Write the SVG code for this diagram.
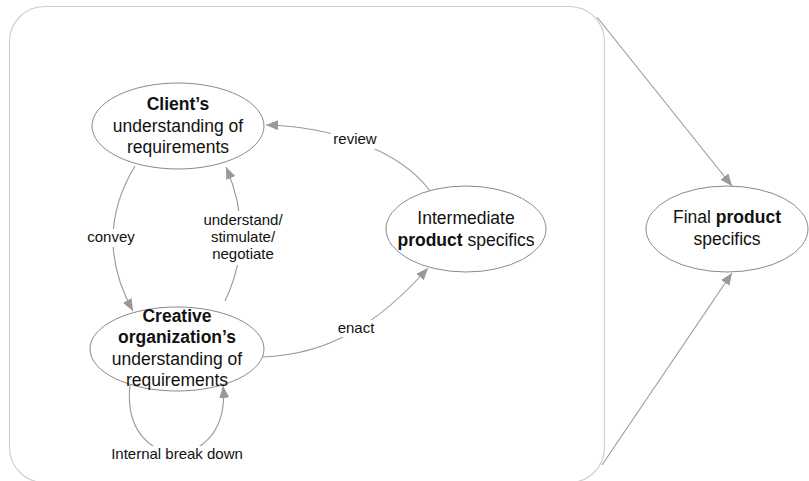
<svg xmlns="http://www.w3.org/2000/svg" width="809" height="481" viewBox="0 0 809 481">
  <defs>
    <marker id="arrow" viewBox="0 0 12 10" refX="12" refY="5" markerWidth="12" markerHeight="10" markerUnits="userSpaceOnUse" orient="auto">
      <path d="M0,0 L12,5 L0,10 Z" fill="#999"/>
    </marker>
    <style>
      .frame { fill: #fff; stroke: #cfcfcf; stroke-width: 1.2; }
      .node ellipse { fill: #fff; stroke: #8a8a8a; stroke-width: 1; }
      .node text { font-family: "Liberation Sans", Arial, sans-serif; font-size: 17.5px; fill: #111; text-anchor: middle; }
      .b { font-weight: bold; }
      .edge { fill: none; stroke: #999; stroke-width: 1.1; }
      .lbl { font-family: "Liberation Sans", Arial, sans-serif; font-size: 15px; fill: #111; text-anchor: middle; }
      .bg { fill: #fff; }
    </style>
  </defs>
  <rect width="809" height="481" fill="#fff"/>

  <!-- outer frame around the requirement cycle -->
  <rect class="frame" x="9.5" y="6.5" width="595" height="476" rx="35" ry="35"/>

  <g id="connectors">
    <!-- convey -->
    <path class="edge" d="M135,166 Q92,237 133,311" marker-end="url(#arrow)"/>
    <!-- understand / stimulate / negotiate -->
    <path class="edge" d="M225,301 Q256,236 226,167" marker-end="url(#arrow)"/>
    <!-- review -->
    <path class="edge" d="M430,191 C400,150 330,126 266,125" marker-end="url(#arrow)"/>
    <!-- enact -->
    <path class="edge" d="M262,357 C330,355 380,322 428,268" marker-end="url(#arrow)"/>
    <!-- internal break down (self loop) -->
    <path class="edge" d="M130,385 C120,475 232,475 223,386" marker-end="url(#arrow)"/>
    <!-- frame to final product -->
    <path class="edge" d="M597,17 L732,186" marker-end="url(#arrow)"/>
    <path class="edge" d="M602,465 L732,273" marker-end="url(#arrow)"/>

    <!-- labels -->
    <rect class="bg" x="85" y="229" width="52" height="18"/>
    <text class="lbl" x="111" y="242">convey</text>
    <rect class="bg" x="203" y="211" width="80" height="54"/>
    <text class="lbl" x="243" y="225">understand/</text>
    <text class="lbl" x="243" y="242">stimulate/</text>
    <text class="lbl" x="243" y="259">negotiate</text>
    <rect class="bg" x="331" y="131" width="48" height="18"/>
    <text class="lbl" x="355" y="144">review</text>
    <rect class="bg" x="335" y="320" width="42" height="17"/>
    <text class="lbl" x="356" y="333">enact</text>
    <rect class="bg" x="108" y="446" width="138" height="18"/>
    <text class="lbl" x="177" y="459">Internal break down</text>
  </g>

  <g id="client" class="node">
    <ellipse cx="178" cy="126" rx="86" ry="43"/>
    <text x="178" y="110"><tspan class="b">Client’s</tspan></text>
    <text x="178" y="132">understanding of</text>
    <text x="178" y="153">requirements</text>
  </g>

  <g id="creative" class="node">
    <ellipse cx="177" cy="349" rx="87" ry="42"/>
    <text x="177" y="322"><tspan class="b">Creative</tspan></text>
    <text x="177" y="343"><tspan class="b">organization’s</tspan></text>
    <text x="177" y="365">understanding of</text>
    <text x="177" y="386">requirements</text>
  </g>

  <g id="intermediate" class="node">
    <ellipse cx="466" cy="229" rx="80" ry="43"/>
    <text x="466" y="224">Intermediate</text>
    <text x="466" y="246"><tspan class="b">product</tspan> specifics</text>
  </g>

  <g id="final" class="node">
    <ellipse cx="727" cy="229" rx="81" ry="43"/>
    <text x="727" y="223">Final <tspan class="b">product</tspan></text>
    <text x="727" y="245">specifics</text>
  </g>
</svg>
